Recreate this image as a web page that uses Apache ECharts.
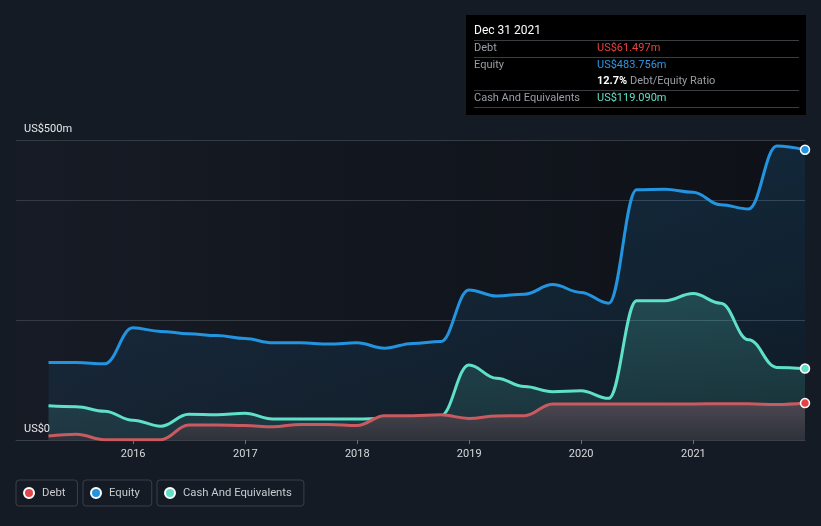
<!DOCTYPE html>
<html>
<head>
<meta charset="utf-8">
<script src="https://cdn.jsdelivr.net/npm/echarts@6/dist/echarts.min.js"></script>
<style>
html,body{margin:0;padding:0;background:#151b25;}
#chart{width:821px;height:526px;}
</style>
</head>
<body>
<div id="chart"></div>
<script>
const dates = ['2015-03-31','2015-06-30','2015-09-30','2015-12-31',
  '2016-03-31','2016-06-30','2016-09-30','2016-12-31',
  '2017-03-31','2017-06-30','2017-09-30','2017-12-31',
  '2018-03-31','2018-06-30','2018-09-30','2018-12-31',
  '2019-03-31','2019-06-30','2019-09-30','2019-12-31',
  '2020-03-31','2020-06-30','2020-09-30','2020-12-31',
  '2021-03-31','2021-06-30','2021-09-30','2021-12-31'];
const debt = [6.7, 9.5, 0.5, 0.5, 0.5, 25, 25, 24, 22, 26, 26, 24, 40.5, 40.5, 42, 36, 40, 40.5, 60, 60, 60, 60, 60, 60, 60.5, 60.5, 59, 61.497];
const equity = [129, 129, 127, 187, 181, 177, 174, 169, 162, 162, 160, 162, 153, 161, 164, 250, 240, 243, 259, 246, 228, 417, 418, 413, 392, 385, 490, 483.756];
const cash = [57, 55.5, 48, 33, 23, 43, 42, 44.5, 35, 35, 35, 35, 36, 38, 40.5, 125, 103, 89, 80.5, 82, 69.4, 232, 232, 244, 228, 167, 121, 119.09];
const yearTicks = [2016, 2017, 2018, 2019, 2020, 2021];
const yLabels = {0: 'US$0', 500: 'US$500m'};

const tipTitle = 'Dec 31 2021';
const tipRows = [
  ['Debt', 'US$61.497m', '#e8413f'],
  ['Equity', 'US$483.756m', '#2d97e6'],
  ['Cash And Equivalents', 'US$119.090m', '#5fe0c8']
];
const ratioText = ['12.7%', 'Debt/Equity Ratio'];

const chart = echarts.init(document.getElementById('chart'));
const last = dates.length - 1;
const ts = s => { const p = s.split('-').map(Number); return Date.UTC(p[0], p[1] - 1, p[2]); };
const pts = arr => dates.map((d, i) => [ts(d), arr[i]]);
const symSize = (v, p) => p.dataIndex === last ? 9 : 0;
const FONT = 'Roboto, "Noto Sans", sans-serif';
const yearVals = yearTicks.map(y => Date.UTC(y, 0, 1));

function mkLegend(name, left, color) {
  return {
    left: left, top: 480, orient: 'horizontal',
    data: [{name: name, icon: 'circle', itemStyle: {color: color}}],
    itemWidth: 16, itemHeight: 10, padding: [7, 12, 7, 7],
    borderColor: '#3a3f48', borderWidth: 1, borderRadius: 3,
    selectedMode: false,
    textStyle: {color: '#c8cbd0', fontSize: 11.3, fontFamily: FONT}
  };
}

const tipG = [];
tipG.push({type: 'rect', shape: {x: 466, y: 15, width: 340, height: 100}, style: {fill: '#000000'}});
tipG.push({type: 'text', x: 474, y: 31, style: {text: tipTitle, fill: '#ffffff', font: '12px ' + FONT, verticalAlign: 'middle'}});
[40, 57, 90, 107].forEach(y => tipG.push({type: 'line', shape: {x1: 474, y1: y + 0.5, x2: 799, y2: y + 0.5}, style: {stroke: '#3a3d42', lineWidth: 1}}));
const rowY = [48.5, 65.5, 98];
tipRows.forEach((r, i) => {
  tipG.push({type: 'text', x: 474, y: rowY[i], style: {text: r[0], fill: '#9a9ea5', font: '11px ' + FONT, verticalAlign: 'middle'}});
  tipG.push({type: 'text', x: 597, y: rowY[i], style: {text: r[1], fill: r[2], font: '11px ' + FONT, verticalAlign: 'middle'}});
});
tipG.push({type: 'text', x: 597, y: 81.5, style: {text: ratioText[0], fill: '#ffffff', font: 'bold 11px ' + FONT, verticalAlign: 'middle'}});
tipG.push({type: 'text', x: 630, y: 81.5, style: {text: ratioText[1], fill: '#9a9ea5', font: '11px ' + FONT, verticalAlign: 'middle'}});

const gridLine = '#353a43';
const option = {
  backgroundColor: '#151b25',
  animation: false,
  textStyle: {fontFamily: FONT},
  grid: {
    left: 16, right: 16, top: 140, bottom: 86, show: true, borderWidth: 0,
    backgroundColor: new echarts.graphic.LinearGradient(0, 0, 1, 0, [
      {offset: 0, color: '#161b25'}, {offset: 1, color: '#0e1117'}
    ])
  },
  legend: [
    mkLegend('Debt', 16, '#e0474c'),
    mkLegend('Equity', 83, '#2394df'),
    mkLegend('Cash And Equivalents', 157, '#5fe0c8')
  ],
  xAxis: {
    type: 'value',
    min: Date.UTC(2014, 11, 15),
    max: Date.UTC(2021, 11, 31),
    axisLine: {show: true, lineStyle: {color: '#3a3f48', width: 1}},
    axisTick: {show: true, length: 4, lineStyle: {color: '#6a6f78'}, customValues: yearVals},
    axisLabel: {color: '#d6d8db', fontSize: 11, margin: 9, customValues: yearVals,
      formatter: v => String(new Date(v).getUTCFullYear())},
    splitLine: {show: false}
  },
  yAxis: {
    type: 'value', min: 0, max: 500, interval: 100,
    axisLine: {show: false}, axisTick: {show: false},
    axisLabel: {inside: true, margin: 8, color: '#e6e7e9', fontSize: 11,
      verticalAlign: 'bottom', lineHeight: 22,
      formatter: v => yLabels[v] || ''},
    splitLine: {show: true, lineStyle: {width: 1,
      color: [gridLine, 'rgba(0,0,0,0)', gridLine, 'rgba(0,0,0,0)', gridLine, gridLine]}}
  },
  series: [
    {
      name: 'Equity', type: 'line', data: pts(equity), smooth: 0.4, smoothMonotone: 'x',
      showSymbol: true, showAllSymbol: true, symbol: 'circle', symbolSize: symSize,
      lineStyle: {color: '#2394df', width: 3},
      itemStyle: {color: '#2394df', borderColor: '#ffffff', borderWidth: 1.5},
      areaStyle: {color: new echarts.graphic.LinearGradient(0, 0, 0, 1, [
        {offset: 0, color: 'rgba(35,148,223,0.24)'}, {offset: 1, color: 'rgba(35,148,223,0.10)'}
      ])},
      z: 2
    },
    {
      name: 'Cash And Equivalents', type: 'line', data: pts(cash), smooth: 0.4, smoothMonotone: 'x',
      showSymbol: true, showAllSymbol: true, symbol: 'circle', symbolSize: symSize,
      lineStyle: {color: '#5fe0c8', width: 3},
      itemStyle: {color: '#5fe0c8', borderColor: '#ffffff', borderWidth: 1.5},
      areaStyle: {color: new echarts.graphic.LinearGradient(0, 0, 0, 1, [
        {offset: 0, color: 'rgba(95,224,200,0.30)'}, {offset: 1, color: 'rgba(95,224,200,0.14)'}
      ])},
      z: 3
    },
    {
      name: 'Debt', type: 'line', data: pts(debt), smooth: 0.4, smoothMonotone: 'x',
      showSymbol: true, showAllSymbol: true, symbol: 'circle', symbolSize: symSize,
      lineStyle: {color: '#c95a60', width: 3},
      itemStyle: {color: '#e8413f', borderColor: '#ffffff', borderWidth: 1.5},
      areaStyle: {opacity: 1, color: new echarts.graphic.LinearGradient(0, 0, 0, 1, [
        {offset: 0, color: '#4c4752'}, {offset: 1, color: '#2e323a'}
      ])},
      z: 4
    }
  ],
  graphic: [{type: 'group', silent: true, children: tipG}]
};
chart.setOption(option);
</script>
</body>
</html>
